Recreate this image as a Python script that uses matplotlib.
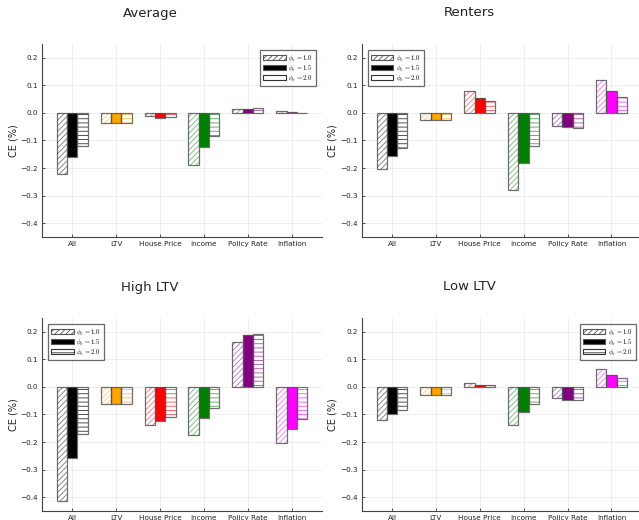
import matplotlib
matplotlib.use("Agg")
import matplotlib.pyplot as plt
import numpy as np
from matplotlib.patches import Patch
from matplotlib.colors import to_rgba

plt.rcParams["mathtext.fontset"] = "cm"
plt.rcParams["hatch.linewidth"] = 0.6

categories = ["All", "LTV", "House Price", "Income", "Policy Rate", "Inflation"]
cat_colors = ["#000000", "#FFA500", "#FF0000", "#008000", "#800080", "#FF00FF"]
phi_labels = [r"$\phi_\pi = 1.0$", r"$\phi_\pi = 1.5$", r"$\phi_\pi = 2.0$"]

# CE (%) by shock, one list per phi_pi value
avg_10 = [-0.223, -0.037, -0.010, -0.190, 0.013, 0.006]
avg_15 = [-0.159, -0.037, -0.017, -0.122, 0.016, 0.003]
avg_20 = [-0.119, -0.037, -0.015, -0.082, 0.018, 0.001]

rent_10 = [-0.202, -0.027, 0.081, -0.280, -0.047, 0.119]
rent_15 = [-0.158, -0.027, 0.053, -0.182, -0.052, 0.081]
rent_20 = [-0.128, -0.027, 0.045, -0.120, -0.053, 0.059]

high_10 = [-0.414, -0.063, -0.137, -0.173, 0.163, -0.205]
high_15 = [-0.259, -0.063, -0.124, -0.114, 0.188, -0.153]
high_20 = [-0.170, -0.063, -0.109, -0.076, 0.193, -0.115]

low_10 = [-0.119, -0.030, 0.014, -0.139, -0.040, 0.064]
low_15 = [-0.098, -0.030, 0.007, -0.090, -0.046, 0.045]
low_20 = [-0.085, -0.030, 0.006, -0.061, -0.047, 0.034]

panels = [
    ("Average", [avg_10, avg_15, avg_20], "upper right"),
    ("Renters", [rent_10, rent_15, rent_20], "upper left"),
    ("High LTV", [high_10, high_15, high_20], "upper left"),
    ("Low LTV", [low_10, low_15, low_20], "upper right"),
]

fig = plt.figure(figsize=(6.39, 5.2), dpi=100)
W, H = 639.0, 520.0
axes_px = [(42, 44), (361.7, 44), (42, 318), (361.7, 318)]
title_px = [(150, 13), (469, 13), (150, 287), (469, 287)]
aw, ah = 280.0, 193.0

outline = "#555555"
bw = 0.235
x = np.arange(1, len(categories) + 1)

for (name, series, loc), (lx, ty), (tx, tty) in zip(panels, axes_px, title_px):
    ax = fig.add_axes([lx / W, 1 - (ty + ah) / H, aw / W, ah / H])
    for k, vals in enumerate(series):
        xs = x + (k - 1) * bw
        for xi, v, c in zip(xs, vals, cat_colors):
            if k == 0:
                hc = "#777777" if c == "#000000" else to_rgba(c, 0.55)
                ax.bar(xi, v, bw, color="white", edgecolor=hc, hatch="//////",
                       linewidth=0, zorder=2)
            elif k == 1:
                ax.bar(xi, v, bw, color=c, linewidth=0, zorder=2)
            else:
                hc = "#333333" if c == "#000000" else to_rgba(c, 0.7)
                ax.bar(xi, v, bw, color="white", edgecolor=hc, hatch="----",
                       linewidth=0, zorder=2)
            ax.bar(xi, v, bw, fill=False, edgecolor=outline, linewidth=0.9,
                   alpha=0.85, zorder=3)

    ax.set_xlim(0.31, 6.69)
    ax.set_ylim(-0.45, 0.25)
    ax.set_yticks([0.2, 0.1, 0.0, -0.1, -0.2, -0.3, -0.4])
    ax.set_yticklabels(["0.2", "0.1", "0.0", "\u22120.1", "\u22120.2", "\u22120.3", "\u22120.4"])
    ax.set_xticks(x)
    ax.set_xticklabels(categories)
    ax.tick_params(direction="in", length=2.5, width=0.6, labelsize=5.2,
                   colors="#333333", labelcolor="#222222", pad=3)
    ax.grid(True, color="#e8e8e8", linewidth=0.5, zorder=0)
    ax.set_axisbelow(True)
    for s in ["top", "right"]:
        ax.spines[s].set_visible(False)
    for s in ["left", "bottom"]:
        ax.spines[s].set_color("#444444")
        ax.spines[s].set_linewidth(0.8)
    ax.set_ylabel("CE (%)", fontsize=7, color="#222222", labelpad=1.5)

    handles = [
        Patch(facecolor="white", edgecolor="#555555", hatch="//////", linewidth=0.8),
        Patch(facecolor="black", edgecolor="#555555", linewidth=0.8),
        Patch(facecolor="white", edgecolor="#333333", hatch="---", linewidth=0.8),
    ]
    leg = ax.legend(handles, phi_labels, loc=loc, fontsize=4.8, frameon=True,
                    fancybox=False, handlelength=3.4, handleheight=0.8,
                    handletextpad=0.4, labelspacing=0.05, borderpad=0.45,
                    borderaxespad=0.9)
    leg.get_frame().set_edgecolor("#444444")
    leg.get_frame().set_linewidth(0.9)

    fig.text(tx / W, 1 - tty / H, name, ha="center", va="center", fontsize=9.5,
             color="#222222")

fig.savefig("out.png", dpi=100)
